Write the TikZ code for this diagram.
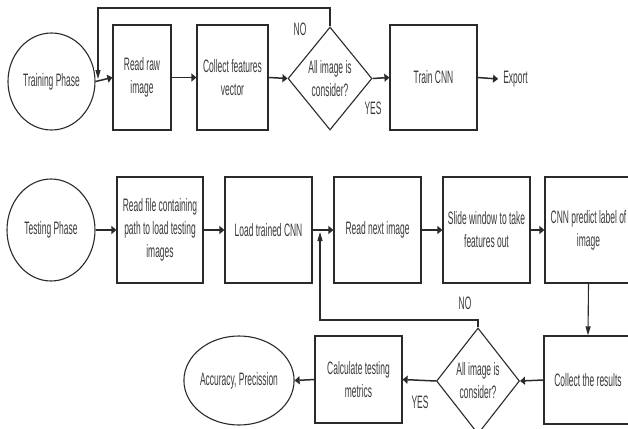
\documentclass[tikz,border=0pt]{standalone}
\usepackage{fontspec}
\setmainfont{Liberation Sans}[FakeStretch=0.47]
\usetikzlibrary{shapes.geometric,arrows.meta}
\definecolor{ln}{HTML}{2A2A2A}
\definecolor{tx}{HTML}{3A3A3A}
\tikzset{
  every node/.style={font=\fontsize{18}{23}\selectfont, text=tx},
  box/.style={draw=ln, rectangle, line width=1.2pt, align=center, inner sep=1pt},
  phase/.style={draw=ln, ellipse, line width=1.1pt, inner sep=0pt, align=center},
  decision/.style={draw=ln, diamond, line width=1.1pt, inner sep=0pt, align=center},
  harr/.style={draw=ln, line width=1.5pt, -{Triangle[length=5pt,width=8pt]}},
  varr/.style={draw=ln, line width=1.1pt, -{Triangle[length=9pt,width=5pt]}},
  lbl/.style={inner sep=0pt},
}
\begin{document}
\begin{tikzpicture}[x=1pt,y=-1pt]
\useasboundingbox (0,0) rectangle (628,428);
% ---- Training row ----
\node[phase, minimum width=87pt, minimum height=97pt] (tp) at (51.5,81.5) {Training Phase};
\node[box, minimum width=58pt, minimum height=105pt] (rr) at (142,77.5) {Read raw\\image};
\node[box, minimum width=71pt, minimum height=105pt] (cf) at (232.5,77.5) {Collect features\\vector};
\node[decision, minimum width=84pt, minimum height=103pt] (d1) at (330,78.5) {All image is\\consider?};
\node[box, minimum width=87pt, minimum height=105pt] (tc) at (433.5,77.5) {Train CNN};
\node[inner sep=5pt] (ex) at (515.5,79) {Export};
\node[lbl] (no1) at (300,29) {NO};
\node[lbl] (yes1) at (373,108) {YES};
\coordinate (t1) at (98,8);
\coordinate (j1) at (98,79);

\draw[harr] (tp.east) -- (rr.west);
\draw[harr] (rr.east) -- (cf.west);
\draw[harr] (cf.east) -- (d1.west);
\draw[harr] (d1.east) -- (tc.west);
\draw[harr] (tc.east) -- (ex.west);
\draw[varr] (d1.north) |- (t1) -- (j1);

% ---- Testing row ----
\node[phase, minimum width=88pt, minimum height=102pt] (ts) at (51,230) {Testing Phase};
\node[box, minimum width=86pt, minimum height=106pt] (b1) at (160,230) {Read file containing\\path to load testing\\images};
\node[box, minimum width=87pt, minimum height=106pt] (b2) at (268.5,230) {Load trained CNN};
\node[box, minimum width=87pt, minimum height=106pt] (b3) at (377.5,230) {Read next image};
\node[box, minimum width=87pt, minimum height=106pt] (b4) at (486.5,230) {Slide window to take\\features out};
\node[box, minimum width=87pt, minimum height=106pt] (b5) at (588.5,230) {CNN predict label of\\image};
\node[box, minimum width=88pt, minimum height=88pt] (cr) at (588,380) {Collect the results};
\node[decision, minimum width=83pt, minimum height=106pt] (d2) at (478,381) {All image is\\consider?};
\node[box, minimum width=87pt, minimum height=87pt] (cm) at (358.5,379.5) {Calculate testing\\metrics};
\node[phase, minimum width=88pt, minimum height=89pt] (acc) at (239,380.5) {Accuracy, Precission};
\node[lbl] (no2) at (465,303) {NO};
\node[lbl] (yes2) at (420,402) {YES};
\coordinate (c2) at (320,320);
\coordinate (j2) at (320,232);

\draw[harr] (ts.east) -- (b1.west);
\draw[harr] (b1.east) -- (b2.west);
\draw[harr] (b2.east) -- (b3.west);
\draw[harr] (b3.east) -- (b4.west);
\draw[harr] (b4.east) -- (b5.west);
\draw[varr] (b5.south) -- (cr.north);
\draw[harr] (cr.west) -- (d2.east);
\draw[harr] (d2.west) -- (cm.east);
\draw[harr] (cm.west) -- (acc.east);
\draw[varr] (d2.north) |- (c2) -- (j2);
\end{tikzpicture}
\end{document}
